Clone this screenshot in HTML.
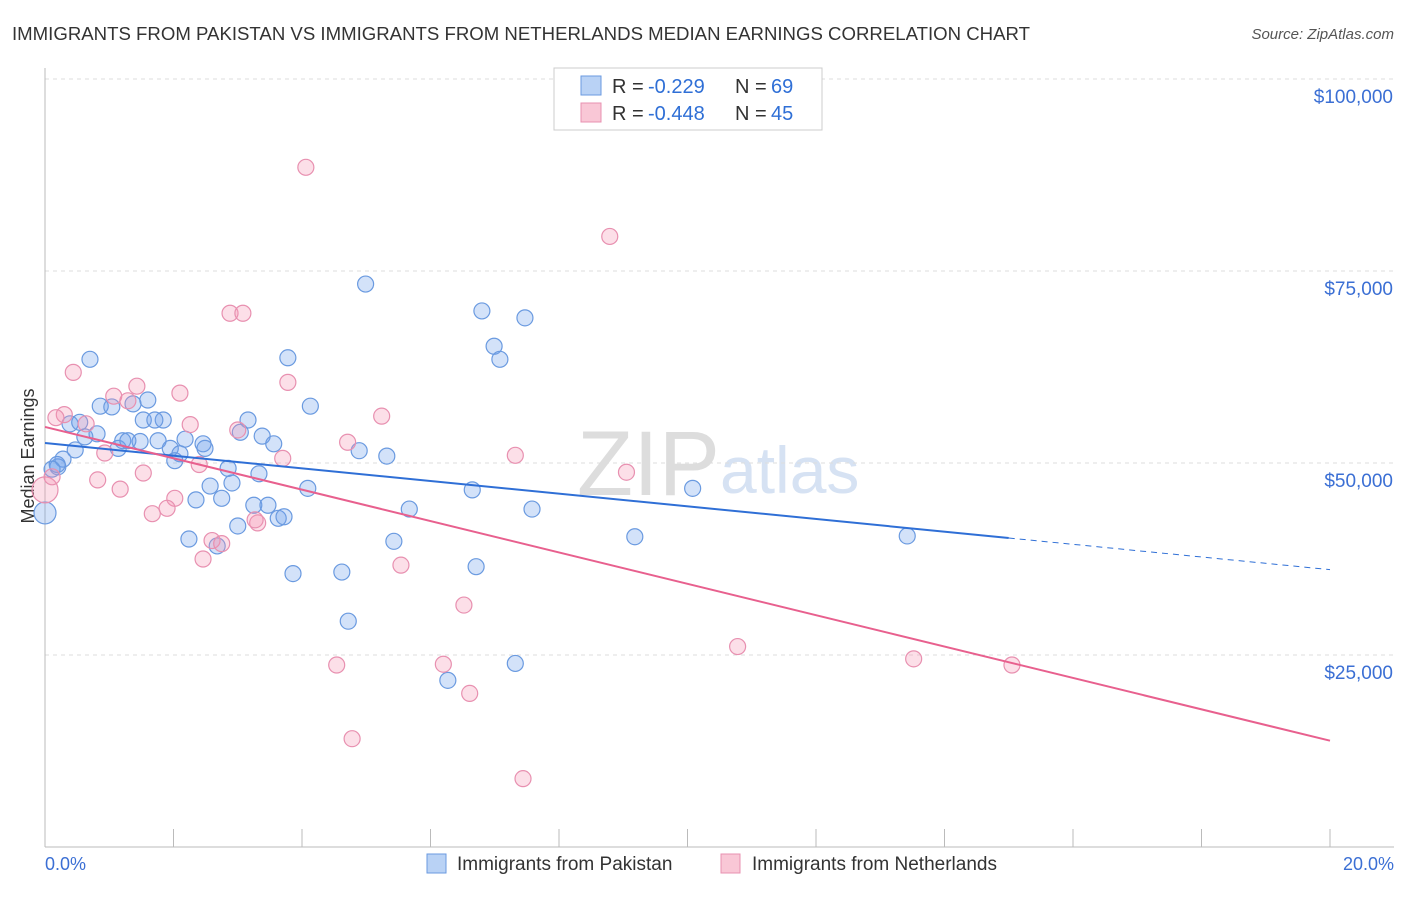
<!DOCTYPE html>
<html><head><meta charset="utf-8"><style>
body{margin:0;background:#fff;font-family:"Liberation Sans",sans-serif}
svg text{font-family:"Liberation Sans",sans-serif}
</style></head><body>
<svg id="chart" width="1406" height="892">
<text x="12" y="40" font-size="18" fill="#333" textLength="1018" lengthAdjust="spacingAndGlyphs">IMMIGRANTS FROM PAKISTAN VS IMMIGRANTS FROM NETHERLANDS MEDIAN EARNINGS CORRELATION CHART</text>
<text x="1394" y="39" font-size="15" fill="#555" font-style="italic" text-anchor="end">Source: ZipAtlas.com</text>
<text x="34" y="456" font-size="18" fill="#333" text-anchor="middle" transform="rotate(-90 34 456)">Median Earnings</text>
<text x="720" y="495" font-size="92" fill="#ddd" text-anchor="end" font-family="Liberation Serif">ZIP</text>
<text x="720" y="493" font-size="66" fill="#d6e2f3">atlas</text>
<g id="grid"></g><g id="axes"></g><g id="pts"></g><g id="lines"></g>
<g>
<rect x="554" y="68" width="268" height="62" fill="#fff" stroke="#ccc"/>
<rect x="581" y="76" width="20" height="19" fill="#b9d2f5" stroke="#6a9ae0"/>
<rect x="581" y="103" width="20" height="19" fill="#f9c7d6" stroke="#e890b0"/>
<text x="612" y="93" font-size="20" fill="#333">R =</text><text x="648" y="93" font-size="20" fill="#2f6fd6">-0.229</text>
<text x="735" y="93" font-size="20" fill="#333">N =</text><text x="771" y="93" font-size="20" fill="#2f6fd6">69</text>
<text x="612" y="120" font-size="20" fill="#333">R =</text><text x="648" y="120" font-size="20" fill="#2f6fd6">-0.448</text>
<text x="735" y="120" font-size="20" fill="#333">N =</text><text x="771" y="120" font-size="20" fill="#2f6fd6">45</text>
</g>
<g>
<rect x="427" y="854" width="19" height="19" fill="#b9d2f5" stroke="#6a9ae0"/>
<text x="457" y="870" font-size="19" fill="#333">Immigrants from Pakistan</text>
<rect x="721" y="854" width="19" height="19" fill="#f9c7d6" stroke="#e890b0"/>
<text x="752" y="870" font-size="19" fill="#333">Immigrants from Netherlands</text>
</g>
<text x="45" y="870" font-size="18" fill="#3b6fd4">0.0%</text>
<text x="1394" y="870" font-size="18" fill="#3b6fd4" text-anchor="end">20.0%</text>
</svg>
<script>
const yTicks=[25000,50000,75000,100000];
const yTickLabels=["$25,000","$50,000","$75,000","$100,000"];
const pakX=[0.70,0.39,0.54,0.86,1.04,1.37,1.6,1.84,1.53,1.71,0.81,0.62,0.47,0.28,0.2,0,1.14,1.21,1.48,1.76,1.95,2.02,2.18,2.1,2.46,2.49,2.57,2.35,2.24,2.75,2.85,2.91,3.04,3.0,3.16,3.38,3.33,3.56,3.25,3.47,3.63,3.72,3.86,3.78,4.13,4.09,4.99,4.62,4.72,4.89,5.32,5.43,5.67,6.27,6.65,6.71,6.8,6.99,7.08,7.32,7.47,7.58,9.18,10.08,13.42,2.68,1.29,0.19,0.11];
const pakY=[63500,55100,55300,57400,57300,57700,58200,55600,55600,55600,53800,53400,51700,50500,49500,43500,51900,52900,52800,52900,51900,50300,53100,51200,52500,51900,47000,45200,40100,45400,49300,47400,54000,41800,55600,53500,48600,52500,44500,44500,42800,43000,35600,63700,57400,46700,73300,35800,29400,51600,50900,39800,44000,21700,46500,36500,69800,65200,63500,23900,68900,44000,40400,46700,40500,39200,52900,49800,49200];
const nedX=[4.06,8.79,2.88,3.08,0.44,1.43,2.1,1.07,1.29,0.3,0.17,0.64,2.26,3.78,3.0,5.24,4.71,7.32,0.93,0.82,1.53,1.17,2.4,3.7,2.02,1.9,1.67,2.6,2.75,2.46,3.31,5.54,9.05,6.52,4.54,6.2,6.61,4.78,7.44,10.78,13.52,15.05,0,0.11,3.27];
const nedY=[88500,79500,69500,69500,61800,60000,59100,58700,58100,56300,55900,55100,55000,60500,54300,56100,52700,51000,51300,47800,48700,46600,49800,50600,45400,44100,43400,39900,39500,37500,42200,36700,48800,31500,23700,23800,20000,14100,8900,26100,24500,23700,46500,48200,42600];
const NS="http://www.w3.org/2000/svg";
const X=v=>45+v/20*1285, Y=v=>847-v/25000*192;
function mk(t,a,p){const e=document.createElementNS(NS,t);for(const k in a)e.setAttribute(k,a[k]);document.getElementById(p).appendChild(e);return e;}
yTicks.forEach((v,i)=>{
 const l=mk('line',{x1:45,x2:1394,y1:Y(v),y2:Y(v),stroke:'#ddd','stroke-dasharray':'4,4'},'grid');
 
 
 const t=mk('text',{x:1393,y:Y(v)+24,'font-size':19,fill:'#3b6fd4','text-anchor':'end'},'grid');
 t.textContent=yTickLabels[i];
 
 
});
const ax=mk('line',{x1:45,x2:45,y1:68,y2:847,stroke:'#bbb'},'axes');


const bx=mk('line',{x1:45,x2:1394,y1:847,y2:847,stroke:'#bbb'},'axes');


for(let i=0;i<=10;i++){
 const t=mk('line',{x1:X(i*2),x2:X(i*2),y1:829,y2:847,stroke:'#bbb'},'axes');
 
 
}
pakX.forEach((x,i)=>{
 const c=mk('circle',{cx:X(x),cy:Y(pakY[i]),r:x<0.05?11:8,fill:'rgba(110,160,235,0.3)',stroke:'#6a9ae0','stroke-width':1.2},'pts');
 
 
});
nedX.forEach((x,i)=>{
 const c=mk('circle',{cx:X(x),cy:Y(nedY[i]),r:x<0.05?13:8,fill:'rgba(245,150,180,0.3)',stroke:'#e890b0','stroke-width':1.2},'pts');
 
 
});
function fit(xs,ys){const n=xs.length,mx=xs.reduce((a,b)=>a+b)/n,my=ys.reduce((a,b)=>a+b)/n;let sxy=0,sxx=0;xs.forEach((x,i)=>{sxy+=(x-mx)*(ys[i]-my);sxx+=(x-mx)**2});const b=sxy/sxx;return [my-b*mx,b];}
const [pa,pb]=fit(pakX,pakY),[na,nb]=fit(nedX,nedY);
const l1=mk('line',{x1:X(0),y1:Y(pa),x2:X(15),y2:Y(pa+pb*15),stroke:'#2f6fd6','stroke-width':2},'lines');


const l2=mk('line',{x1:X(15),y1:Y(pa+pb*15),x2:X(20),y2:Y(pa+pb*20),stroke:'#2f6fd6','stroke-width':1,'stroke-dasharray':'6,5'},'lines');


const l3=mk('line',{x1:X(0),y1:Y(na),x2:X(20),y2:Y(na+nb*20),stroke:'#e8608e','stroke-width':2},'lines');


</script>
</body></html>
